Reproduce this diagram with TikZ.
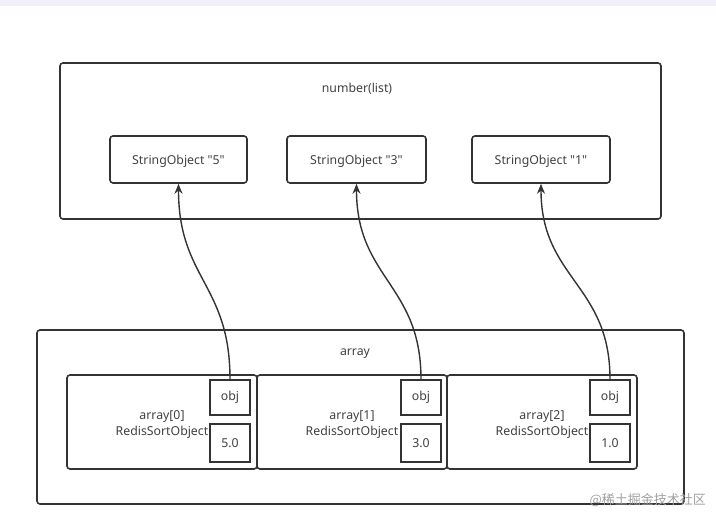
\documentclass[tikz,border=0pt]{standalone}
\usepackage{fontspec}
\setmainfont{Noto Sans}
\newfontfamily\cjk{Noto Sans CJK SC}
\usetikzlibrary{arrows.meta}
\definecolor{ln}{HTML}{333333}
\definecolor{txt}{HTML}{404040}
\definecolor{strip}{HTML}{F2EFFB}
\definecolor{wm}{HTML}{A0A0A0}
\begin{document}
\begin{tikzpicture}[x=1pt,y=-1pt,
  every node/.style={font=\fontsize{12.3}{16}\selectfont, text=txt, inner sep=0pt},
  rbox/.style={draw=ln, line width=1.6pt, rounded corners=3pt},
  sbox/.style={draw=ln, line width=1.8pt},
  arr/.style={draw=ln, line width=1.4pt, -{Stealth[length=10pt,width=8pt]}}]
\useasboundingbox (0,0) rectangle (716,514);
\fill[strip] (0,0) rectangle (716,6);
% top container
\node[rbox, minimum width=601pt, minimum height=156pt] (list) at (360.5,141) {};
\node (listlbl) at (357,89) {number(list)};
\node[rbox, minimum width=137pt, minimum height=47pt] (s5) at (178.5,159.5) {};
\node[rbox, minimum width=139pt, minimum height=47pt] (s3) at (356.5,159.5) {};
\node[rbox, minimum width=138pt, minimum height=47pt] (s1) at (541,159.5) {};
\node (t5) at (178.5,161) {StringObject \textquotedbl5\textquotedbl};
\node (t3) at (356.5,161) {StringObject \textquotedbl3\textquotedbl};
\node (t1) at (541,161) {StringObject \textquotedbl1\textquotedbl};
% bottom container
\node[rbox, minimum width=647pt, minimum height=174pt] (arr) at (360.5,417) {};
\node (arrlbl) at (355,354) {array};
\node[rbox, minimum width=190pt, minimum height=94pt] (e0) at (162,422) {};
\node[rbox, minimum width=190pt, minimum height=94pt] (e1) at (352,422) {};
\node[rbox, minimum width=190pt, minimum height=94pt] (e2) at (542,422) {};
\node[align=center] (l0) at (162,424.5) {array[0]\\RedisSortObject};
\node[align=center] (l1) at (352,424.5) {array[1]\\RedisSortObject};
\node[align=center] (l2) at (542,424.5) {array[2]\\RedisSortObject};
\node[sbox, fill=white, minimum width=40pt, minimum height=35pt] (o0) at (230,397.5) {obj};
\node[sbox, fill=white, minimum width=40pt, minimum height=38pt] (v0) at (230,443) {5.0};
\node[sbox, fill=white, minimum width=40pt, minimum height=35pt] (o1) at (421,397.5) {obj};
\node[sbox, fill=white, minimum width=40pt, minimum height=38pt] (v1) at (421,443) {3.0};
\node[sbox, fill=white, minimum width=40pt, minimum height=38pt] (v2) at (610,443) {1.0};
\node[sbox, fill=white, minimum width=40pt, minimum height=35pt] (o2) at (610,397.5) {obj};
% connectors
\draw[arr] (o0.north) .. controls +(0,-95) and +(0,95) .. (s5.south);
\draw[arr] (o1.north) .. controls +(0,-95) and +(0,95) .. (s3.south);
\draw[arr] (o2.north) .. controls +(0,-95) and +(0,95) .. (s1.south);
% watermark
\node[anchor=east, text=wm, font=\cjk\fontsize{13}{15}\selectfont] (wmk) at (706,500) {@稀土掘金技术社区};
\end{tikzpicture}
\end{document}
